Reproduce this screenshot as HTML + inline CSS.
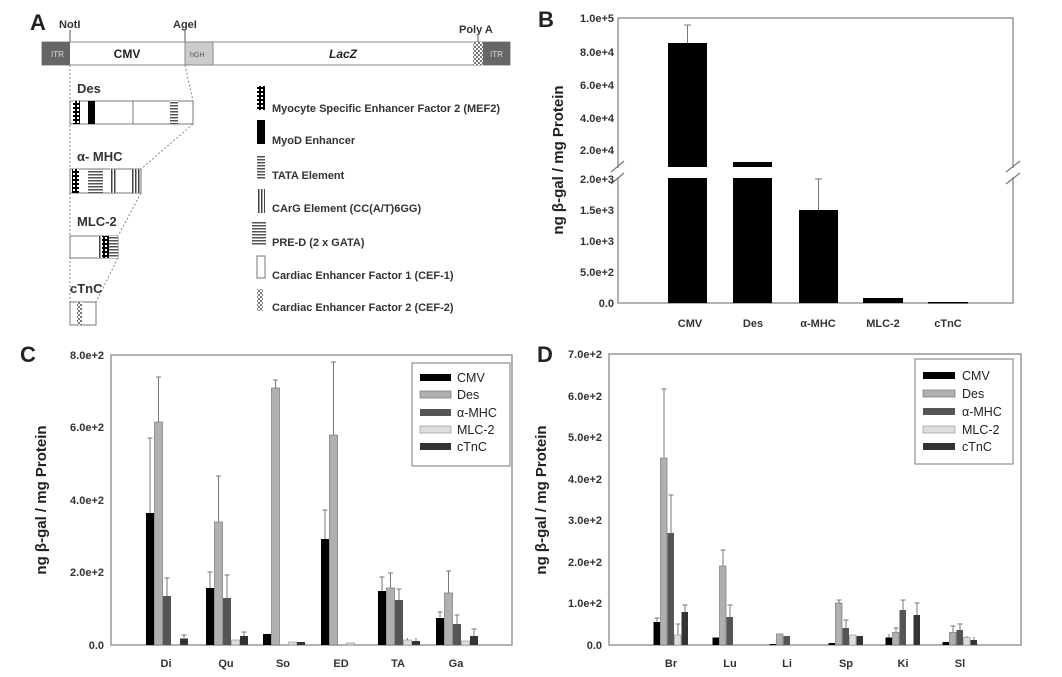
<!DOCTYPE html>
<html><head><meta charset="utf-8"><style>
html,body{margin:0;padding:0;background:#fff}
svg{display:block}
text{font-family:"Liberation Sans",Arial,sans-serif}
.t{font-size:11px;fill:#333;font-weight:bold}
.yl{font-size:15px;font-weight:bold;fill:#222}
.lg{font-size:12.5px;fill:#222}
.bl{font-size:11px;fill:#333}
.ax{stroke:#888;stroke-width:1.3;fill:none}
.e{stroke:#777;stroke-width:1;fill:none}
.c0{fill:#000}.c1{fill:#b0b0b0;stroke:#777;stroke-width:.7}.c2{fill:#555}.c3{fill:#ddd;stroke:#999;stroke-width:.7}.c4{fill:#333}
</style></head><body>
<svg width="1062" height="677" viewBox="0 0 1062 677" xmlns="http://www.w3.org/2000/svg">
<defs>
<pattern id="hz" width="4" height="3" patternUnits="userSpaceOnUse"><rect width="4" height="3" fill="#fff"/><rect width="4" height="1.5" fill="#555"/></pattern>
<pattern id="vt" width="3" height="4" patternUnits="userSpaceOnUse"><rect width="3" height="4" fill="#fff"/><rect width="1.5" height="4" fill="#444"/></pattern>
<pattern id="dt" width="4" height="4" patternUnits="userSpaceOnUse"><rect width="4" height="4" fill="#000"/><rect x="1" y="1" width="2" height="2" fill="#fff"/></pattern>
<pattern id="ck" width="4" height="4" patternUnits="userSpaceOnUse"><rect width="4" height="4" fill="#fff"/><rect width="2" height="2" fill="#777"/><rect x="2" y="2" width="2" height="2" fill="#777"/></pattern>
</defs>

<!-- PANEL A -->
<text x="30" y="30" font-size="22" font-weight="bold" fill="#222">A</text>
<text x="59" y="28" font-size="11" font-weight="bold" fill="#333">NotI</text>
<text x="173" y="28" font-size="11" font-weight="bold" fill="#333">AgeI</text>
<text x="459" y="33" font-size="11" font-weight="bold" fill="#333">Poly A</text>
<line x1="70" y1="30" x2="70" y2="42" stroke="#555"/>
<line x1="185" y1="30" x2="185" y2="42" stroke="#555"/>
<line x1="478" y1="36" x2="478" y2="42" stroke="#555"/>
<rect x="42" y="42" width="468" height="23" fill="#fff" stroke="#888"/>
<rect x="42" y="42" width="28" height="23" fill="#666"/>
<rect x="483" y="42" width="27" height="23" fill="#666"/>
<rect x="185" y="42" width="28" height="23" fill="#ccc" stroke="#888"/>
<rect x="473" y="42" width="10" height="23" fill="url(#ck)"/>
<text x="51" y="57" font-size="8" fill="#ddd">ITR</text>
<text x="490" y="57" font-size="8" fill="#ddd">ITR</text>
<text x="190" y="57" font-size="7" fill="#555">hGH</text>
<text x="127" y="58" font-size="12" font-weight="bold" fill="#222" text-anchor="middle">CMV</text>
<text x="343" y="58" font-size="12" font-weight="bold" font-style="italic" fill="#222" text-anchor="middle">LacZ</text>
<g stroke="#888" stroke-dasharray="2,2" fill="none">
<line x1="70" y1="65" x2="70" y2="325"/>
<line x1="185" y1="65" x2="193" y2="101"/>
<line x1="193" y1="124" x2="141" y2="169"/>
<line x1="141" y1="193" x2="118" y2="236"/>
<line x1="118" y1="258" x2="96" y2="302"/>
</g>
<g font-size="13" font-weight="bold" fill="#333">
<text x="77" y="93">Des</text><text x="77" y="161">α- MHC</text><text x="77" y="226">MLC-2</text><text x="70" y="293">cTnC</text>
</g>
<rect x="70" y="101" width="123" height="23" fill="#fff" stroke="#777"/>
<rect x="73" y="101" width="7" height="23" fill="url(#dt)"/>
<rect x="88" y="101" width="7" height="23" fill="#000"/>
<line x1="133" y1="101" x2="133" y2="124" stroke="#777"/>
<rect x="170" y="101" width="8" height="23" fill="url(#hz)"/>
<rect x="70" y="169" width="71" height="24" fill="#fff" stroke="#777"/>
<rect x="72" y="169" width="7" height="24" fill="url(#dt)"/>
<rect x="88" y="169" width="15" height="24" fill="url(#hz)"/>
<rect x="110" y="169" width="6" height="24" fill="url(#vt)"/>
<rect x="132" y="169" width="8" height="24" fill="url(#vt)"/>
<rect x="70" y="236" width="48" height="22" fill="#fff" stroke="#777"/>
<rect x="98" y="236" width="4" height="22" fill="url(#vt)"/>
<rect x="102" y="236" width="7" height="22" fill="url(#dt)"/>
<rect x="109" y="236" width="9" height="22" fill="url(#hz)"/>
<rect x="70" y="302" width="26" height="23" fill="#fff" stroke="#777"/>
<rect x="77" y="302" width="5" height="23" fill="url(#ck)"/>
<rect x="257" y="86" width="8" height="24" fill="url(#dt)"/>
<rect x="257" y="120" width="8" height="24" fill="#000"/>
<rect x="257" y="155" width="8" height="24" fill="url(#hz)"/>
<rect x="257" y="189" width="8" height="24" fill="url(#vt)"/>
<rect x="252" y="222" width="14" height="24" fill="url(#hz)"/>
<rect x="257" y="256" width="8" height="22" fill="#fff" stroke="#777"/>
<rect x="257" y="289" width="6" height="22" fill="url(#ck)"/>
<g class="bl" font-weight="bold">
<text x="272" y="112">Myocyte Specific Enhancer Factor 2 (MEF2)</text>
<text x="272" y="144">MyoD Enhancer</text>
<text x="272" y="179">TATA Element</text>
<text x="272" y="212">CArG Element (CC(A/T)6GG)</text>
<text x="272" y="246">PRE-D (2 x GATA)</text>
<text x="272" y="279">Cardiac Enhancer Factor 1 (CEF-1)</text>
<text x="272" y="311">Cardiac Enhancer Factor 2 (CEF-2)</text>
</g>

<!-- PANEL B -->
<text x="538" y="27" font-size="22" font-weight="bold" fill="#222">B</text>
<rect x="618" y="18" width="395" height="285" class="ax"/>
<rect x="668" y="43" width="39" height="124" fill="#000"/>
<rect x="668" y="178" width="39" height="125" fill="#000"/>
<line x1="687.5" y1="43" x2="687.5" y2="25" class="e"/><line x1="684" y1="25" x2="691" y2="25" class="e"/>
<rect x="733" y="162" width="39" height="5" fill="#000"/>
<rect x="733" y="178" width="39" height="125" fill="#000"/>
<rect x="799" y="210" width="39" height="93" fill="#000"/>
<line x1="818.5" y1="210" x2="818.5" y2="179" class="e"/><line x1="815" y1="179" x2="822" y2="179" class="e"/>
<rect x="863" y="298" width="40" height="5" fill="#000"/>
<rect x="928" y="302" width="40" height="1.5" fill="#000"/>
<rect x="605" y="168" width="420" height="9" fill="#fff"/>
<g stroke="#777" stroke-width="1.2">
<line x1="611" y1="172" x2="624" y2="161"/><line x1="611" y1="184" x2="624" y2="173"/>
<line x1="1006" y1="172" x2="1020" y2="161"/><line x1="1006" y1="184" x2="1020" y2="173"/>
</g>
<g class="t" text-anchor="end">
<text x="614" y="22">1.0e+5</text><text x="614" y="56">8.0e+4</text><text x="614" y="89">6.0e+4</text><text x="614" y="122">4.0e+4</text><text x="614" y="154">2.0e+4</text>
<text x="614" y="183">2.0e+3</text><text x="614" y="214">1.5e+3</text><text x="614" y="245">1.0e+3</text><text x="614" y="276">5.0e+2</text><text x="614" y="307">0.0</text>
</g>
<g class="t" text-anchor="middle">
<text x="690" y="327">CMV</text><text x="753" y="327">Des</text><text x="818" y="327">α-MHC</text><text x="883" y="327">MLC-2</text><text x="948" y="327">cTnC</text>
</g>
<text class="yl" transform="translate(563,160) rotate(-90)" text-anchor="middle">ng β-gal / mg Protein</text>

<!-- PANEL C -->
<text x="20" y="362" font-size="22" font-weight="bold" fill="#222">C</text>
<rect x="111" y="355" width="401" height="290" class="ax"/>
<g class="t" text-anchor="end">
<text x="104" y="359">8.0e+2</text><text x="104" y="431">6.0e+2</text><text x="104" y="504">4.0e+2</text><text x="104" y="576">2.0e+2</text><text x="104" y="649">0.0</text>
</g>
<g class="t" text-anchor="middle">
<text x="166" y="667">Di</text><text x="226" y="667">Qu</text><text x="283" y="667">So</text><text x="341" y="667">ED</text><text x="398" y="667">TA</text><text x="456" y="667">Ga</text>
</g>
<text class="yl" transform="translate(46,500) rotate(-90)" text-anchor="middle">ng β-gal / mg Protein</text>
<g class="e">
<path d="M150 513V438M147.5 438h5M158.5 422V377M156 377h5M167 596V578M164.5 578h5M184 638V635M181.5 635h5"/>
<path d="M210 588V572M207.5 572h5M218.5 522V476M216 476h5M227 598V575M224.5 575h5M244 636V632M241.5 632h5"/>
<path d="M275.5 388V380M273 380h5"/>
<path d="M325 539V510M322.5 510h5M333.5 435V362M331 362h5"/>
<path d="M382 591V577M379.5 577h5M390.5 588V573M388 573h5M399 600V589M396.5 589h5M407.5 640V638M416 641V638"/>
<path d="M440 618V612M437.5 612h5M448.5 593V571M446 571h5M457 624V615M454.5 615h5M474 636V629M471.5 629h5"/>
</g>
<rect class="c0" x="146" y="513" width="8" height="132"/><rect class="c1" x="154.5" y="422" width="8" height="223"/><rect class="c2" x="163" y="596" width="8" height="49"/><rect class="c4" x="180" y="638.5" width="8" height="6.5"/>
<rect class="c0" x="206" y="588" width="8" height="57"/><rect class="c1" x="214.5" y="522" width="8" height="123"/><rect class="c2" x="223" y="598" width="8" height="47"/><rect class="c3" x="231.5" y="640" width="8" height="5"/><rect class="c4" x="240" y="636" width="8" height="9"/>
<rect class="c0" x="263" y="634" width="8" height="11"/><rect class="c1" x="271.5" y="388" width="8" height="257"/><rect class="c3" x="288.5" y="642" width="8" height="3"/><rect class="c4" x="297" y="642" width="8" height="3"/>
<rect class="c0" x="321" y="539" width="8" height="106"/><rect class="c1" x="329.5" y="435" width="8" height="210"/><rect class="c3" x="346.5" y="643" width="8" height="2"/>
<rect class="c0" x="378" y="591" width="8" height="54"/><rect class="c1" x="386.5" y="588" width="8" height="57"/><rect class="c2" x="395" y="600" width="8" height="45"/><rect class="c3" x="403.5" y="640" width="8" height="5"/><rect class="c4" x="412" y="641" width="8" height="4"/>
<rect class="c0" x="436" y="618" width="8" height="27"/><rect class="c1" x="444.5" y="593" width="8" height="52"/><rect class="c2" x="453" y="624" width="8" height="21"/><rect class="c3" x="461.5" y="641" width="8" height="4"/><rect class="c4" x="470" y="636" width="8" height="9"/>
<rect x="412" y="363" width="98" height="103" fill="#fff" stroke="#777"/>
<rect class="c0" x="420" y="374" width="31" height="7"/><rect class="c1" x="420" y="391" width="31" height="7"/><rect class="c2" x="420" y="409" width="31" height="7"/><rect class="c3" x="420" y="426" width="31" height="7"/><rect class="c4" x="420" y="443" width="31" height="7"/>
<g class="lg"><text x="457" y="382">CMV</text><text x="457" y="399">Des</text><text x="457" y="417">α-MHC</text><text x="457" y="434">MLC-2</text><text x="457" y="451">cTnC</text></g>

<!-- PANEL D -->
<text x="537" y="362" font-size="22" font-weight="bold" fill="#222">D</text>
<rect x="609" y="354" width="412" height="291" class="ax"/>
<g class="t" text-anchor="end">
<text x="602" y="358">7.0e+2</text><text x="602" y="400">6.0e+2</text><text x="602" y="441">5.0e+2</text><text x="602" y="483">4.0e+2</text><text x="602" y="524">3.0e+2</text><text x="602" y="566">2.0e+2</text><text x="602" y="607">1.0e+2</text><text x="602" y="649">0.0</text>
</g>
<g class="t" text-anchor="middle">
<text x="671" y="667">Br</text><text x="730" y="667">Lu</text><text x="787" y="667">Li</text><text x="846" y="667">Sp</text><text x="903" y="667">Ki</text><text x="960" y="667">Sl</text>
</g>
<text class="yl" transform="translate(546,500) rotate(-90)" text-anchor="middle">ng β-gal / mg Protein</text>
<g class="e">
<path d="M657 622V618M654.5 618h5M664 458V389M661.5 389h5M671 533V495M668.5 495h5M678 635V624M675.5 624h5M685 612V605M682.5 605h5"/>
<path d="M723 566V550M720.5 550h5M730 617V605M727.5 605h5"/>
<path d="M839 603V600M836.5 600h5M846 628V620M843.5 620h5"/>
<path d="M889 638V634M896 632V628M893.5 628h5M903 610V600M900.5 600h5M917 615V603M914.5 603h5"/>
<path d="M953 632V626M950.5 626h5M960 630V624M957.5 624h5M967 638V636M974 640V637"/>
</g>
<rect class="c0" x="653.5" y="622" width="6.5" height="23"/><rect class="c1" x="660.5" y="458" width="6.5" height="187"/><rect class="c2" x="667.5" y="533" width="6.5" height="112"/><rect class="c3" x="674.5" y="635" width="6.5" height="10"/><rect class="c4" x="681.5" y="612" width="6.5" height="33"/>
<rect class="c0" x="712.5" y="637.5" width="6.5" height="7.5"/><rect class="c1" x="719.5" y="566" width="6.5" height="79"/><rect class="c2" x="726.5" y="617" width="6.5" height="28"/>
<rect class="c0" x="769.5" y="644" width="6.5" height="1"/><rect class="c1" x="776.5" y="634" width="6.5" height="11"/><rect class="c2" x="783.5" y="636" width="6.5" height="9"/>
<rect class="c0" x="828.5" y="643" width="6.5" height="2"/><rect class="c1" x="835.5" y="603" width="6.5" height="42"/><rect class="c2" x="842.5" y="628" width="6.5" height="17"/><rect class="c3" x="849.5" y="635" width="6.5" height="10"/><rect class="c4" x="856.5" y="636" width="6.5" height="9"/>
<rect class="c0" x="885.5" y="637.5" width="6.5" height="7.5"/><rect class="c1" x="892.5" y="632.5" width="6.5" height="12.5"/><rect class="c2" x="899.5" y="610" width="6.5" height="35"/><rect class="c4" x="913.5" y="615" width="6.5" height="30"/>
<rect class="c0" x="942.5" y="642" width="6.5" height="3"/><rect class="c1" x="949.5" y="632.5" width="6.5" height="12.5"/><rect class="c2" x="956.5" y="630" width="6.5" height="15"/><rect class="c3" x="963.5" y="637.5" width="6.5" height="7.5"/><rect class="c4" x="970.5" y="640" width="6.5" height="5"/>
<rect x="915" y="359" width="98" height="105" fill="#fff" stroke="#777"/>
<rect class="c0" x="923" y="372" width="32" height="7"/><rect class="c1" x="923" y="390" width="32" height="7"/><rect class="c2" x="923" y="408" width="32" height="7"/><rect class="c3" x="923" y="426" width="32" height="7"/><rect class="c4" x="923" y="443" width="32" height="7"/>
<g class="lg"><text x="962" y="380">CMV</text><text x="962" y="398">Des</text><text x="962" y="416">α-MHC</text><text x="962" y="434">MLC-2</text><text x="962" y="451">cTnC</text></g>
</svg>
</body></html>
